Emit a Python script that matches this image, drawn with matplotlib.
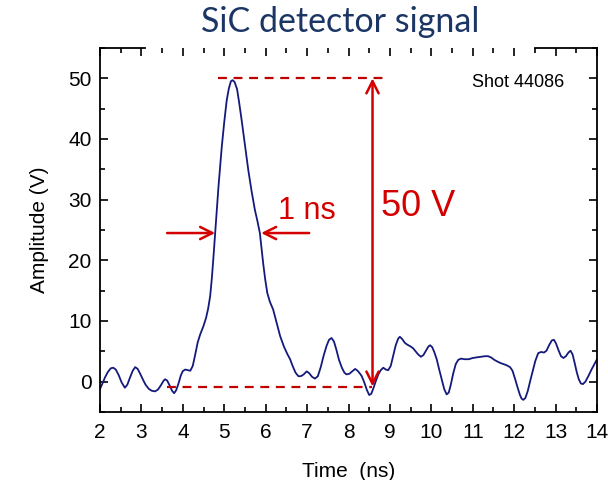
import matplotlib
matplotlib.use("Agg")
import matplotlib.pyplot as plt
from matplotlib.ticker import MultipleLocator

# ---- data ----
time_ns = [2.00, 2.06, 2.12, 2.19, 2.26, 2.32, 2.38, 2.45, 2.52, 2.60, 2.66, 2.72, 2.79, 2.85,
           2.91, 2.97, 3.04, 3.10, 3.18, 3.25, 3.33, 3.40, 3.47, 3.53, 3.57, 3.62, 3.68, 3.74,
           3.79, 3.84, 3.90, 3.95, 4.00, 4.06, 4.12, 4.18, 4.24, 4.30, 4.36, 4.42, 4.50, 4.56,
           4.61, 4.66, 4.70, 4.74, 4.78, 4.82, 4.86, 4.90, 4.94, 5.00, 5.06, 5.11, 5.16, 5.20,
           5.25, 5.31, 5.36, 5.42, 5.50, 5.58, 5.66, 5.74, 5.80, 5.86, 5.90, 5.94, 5.99, 6.04,
           6.10, 6.18, 6.26, 6.35, 6.44, 6.52, 6.59, 6.65, 6.72, 6.79, 6.85, 6.92, 6.99, 7.05,
           7.12, 7.19, 7.26, 7.33, 7.40, 7.47, 7.53, 7.59, 7.65, 7.71, 7.77, 7.84, 7.90, 7.95,
           8.02, 8.09, 8.16, 8.22, 8.28, 8.32, 8.38, 8.44, 8.50, 8.55, 8.60, 8.66, 8.72, 8.78,
           8.84, 8.90, 8.96, 9.02, 9.08, 9.14, 9.20, 9.24, 9.30, 9.36, 9.42, 9.50, 9.56, 9.62,
           9.68, 9.75, 9.81, 9.87, 9.93, 9.97, 10.02, 10.07, 10.13, 10.19, 10.25, 10.31, 10.37,
           10.42, 10.47, 10.53, 10.59, 10.65, 10.72, 10.80, 10.90, 11.00, 11.09, 11.20, 11.30,
           11.37, 11.44, 11.52, 11.60, 11.66, 11.74, 11.82, 11.90, 11.96, 12.02, 12.08, 12.14,
           12.18, 12.22, 12.27, 12.33, 12.39, 12.45, 12.51, 12.58, 12.65, 12.72, 12.78, 12.85,
           12.91, 12.96, 13.01, 13.07, 13.13, 13.19, 13.25, 13.31, 13.36, 13.41, 13.46, 13.51,
           13.56, 13.61, 13.66, 13.72, 13.79, 13.86, 13.93, 14.00]
amplitude_v = [-1.2, -0.3, 0.7, 1.6, 2.2, 2.3, 2.0, 1.1, -0.1, -1.0, -0.5, 0.6, 1.8, 2.4,
               2.1, 1.3, 0.3, -0.5, -1.2, -1.5, -1.6, -1.3, -0.6, 0.1, 0.4, 0.2, -0.6, -1.5,
               -1.9, -1.4, -0.2, 1.0, 1.75, 2.0, 1.9, 1.8, 2.6, 4.5, 6.5, 7.8, 9.2, 10.5,
               12.0, 14.1, 17.0, 20.6, 24.5, 28.3, 32.1, 35.5, 38.7, 42.8, 46.4, 48.3, 49.5, 49.7,
               49.4, 48.2, 46.0, 43.1, 39.0, 34.9, 31.4, 28.3, 26.5, 24.5, 22.0, 19.5, 16.8, 14.6,
               13.2, 11.9, 9.8, 7.5, 5.8, 4.6, 3.7, 2.6, 1.5, 0.9, 0.9, 1.2, 1.7, 1.4,
               0.8, 0.5, 0.9, 2.4, 4.3, 5.9, 6.9, 7.2, 6.6, 5.2, 3.6, 2.3, 1.5, 1.2,
               1.3, 1.7, 2.1, 1.8, 1.3, 0.9, -0.1, -1.3, -2.2, -2.0, -1.1, 0.1, 1.2, 1.9,
               2.3, 2.0, 1.9, 2.6, 4.3, 6.0, 7.1, 7.4, 7.0, 6.4, 6.1, 5.8, 5.5, 5.0,
               4.5, 4.1, 4.4, 5.1, 5.8, 6.0, 5.7, 4.9, 3.7, 2.0, 0.4, -1.2, -2.1,
               -1.8, -0.5, 1.4, 2.9, 3.6, 3.8, 3.7, 3.7, 3.9, 4.0, 4.1, 4.2,
               4.2, 4.0, 3.6, 3.3, 3.1, 2.9, 2.7, 2.4, 1.8, 0.5, -0.9, -2.2,
               -2.8, -3.0, -2.7, -1.5, 0.2, 1.8, 3.4, 4.7, 4.9, 4.8, 5.1, 6.1,
               6.8, 6.9, 6.3, 5.2, 4.2, 3.9, 4.2, 4.8, 5.1, 4.5, 3.1, 1.6,
               0.4, -0.3, -0.4, 0.0, 0.9, 1.9, 2.8, 3.7]

peak_level = 50.0
base_level = -0.8
top_line_x = [4.85, 8.84]
base_line_x = [3.62, 8.57]
arrow_x = 8.58
fwhm_y = 24.5
fwhm_left = [3.62, 4.78]
fwhm_right = [7.05, 5.89]

title = "SiC detector signal"
xlabel = "Time  (ns)"
ylabel = "Amplitude (V)"
shot_label = "Shot 44086"

RED = "#d40000"
DRED = "#c00000"
NAVY = "#141a7c"

fig = plt.figure(figsize=(6.08, 4.80), dpi=100)
ax = fig.add_axes([100/608, 1-412/480, 497/608, 364/480])

ax.plot(time_ns, amplitude_v, color=NAVY, lw=1.3)

ax.set_xlim(2, 14)
ax.set_ylim(-5, 55)
ax.xaxis.set_major_locator(MultipleLocator(1))
ax.xaxis.set_minor_locator(MultipleLocator(0.5))
ax.yaxis.set_major_locator(MultipleLocator(10))
ax.yaxis.set_minor_locator(MultipleLocator(5))
ax.tick_params(which='both', direction='in', top=True, right=True, width=1.2, color='black')
ax.tick_params(which='major', length=6)
ax.tick_params(which='minor', length=3.5)
ax.tick_params(axis='x', which='major', pad=8)
ax.tick_params(axis='y', which='major', pad=6)
for lab in ax.get_xticklabels() + ax.get_yticklabels():
    lab.set_fontfamily('Liberation Sans')
    lab.set_fontsize(15)
for sp in ax.spines.values():
    sp.set_linewidth(1.3)

# top spine partly hidden behind the title box
ax.spines['top'].set_visible(False)
ax.plot([0, 0.09], [1, 1], transform=ax.transAxes, color='black', lw=1.3, clip_on=False)
ax.plot([0.875, 1], [1, 1], transform=ax.transAxes, color='black', lw=1.3, clip_on=False)

ax.set_xlabel(xlabel, fontfamily='Liberation Sans', fontsize=15, labelpad=14)
ax.set_ylabel(ylabel, fontfamily='Liberation Sans', fontsize=15, labelpad=14)

fig.text(340/608, 1-22/480, title, ha='center', va='center', fontfamily='Lato',
         fontsize=24.5, color='#1b3565')

ax.text(0.935, 0.905, shot_label, transform=ax.transAxes, ha='right', va='center',
        fontfamily='Liberation Sans', fontsize=13)

# annotations
ax.plot(top_line_x, [peak_level, peak_level], color=DRED, lw=1.6, ls=(0, (4, 3)))
ax.plot(base_line_x, [base_level, base_level], color=DRED, lw=1.6, ls=(0, (4, 3)))
ax.annotate('', xy=(arrow_x, peak_level), xytext=(arrow_x, base_level),
            arrowprops=dict(arrowstyle='<->', color=RED, lw=1.8, mutation_scale=22,
                            shrinkA=0, shrinkB=0))
ax.annotate('', xy=(fwhm_left[1], fwhm_y), xytext=(fwhm_left[0], fwhm_y),
            arrowprops=dict(arrowstyle='->', color=RED, lw=1.8, mutation_scale=22,
                            shrinkA=0, shrinkB=0))
ax.annotate('', xy=(fwhm_right[1], fwhm_y), xytext=(fwhm_right[0], fwhm_y),
            arrowprops=dict(arrowstyle='->', color=RED, lw=1.8, mutation_scale=22,
                            shrinkA=0, shrinkB=0))
ax.text(6.30, 28.1, "1 ns", color=RED, fontfamily='Liberation Sans', fontsize=22,
        ha='left', va='center')
ax.text(8.78, 28.8, "50 V", color=RED, fontfamily='Liberation Sans', fontsize=26,
        ha='left', va='center')

fig.savefig("out.png", dpi=100)
